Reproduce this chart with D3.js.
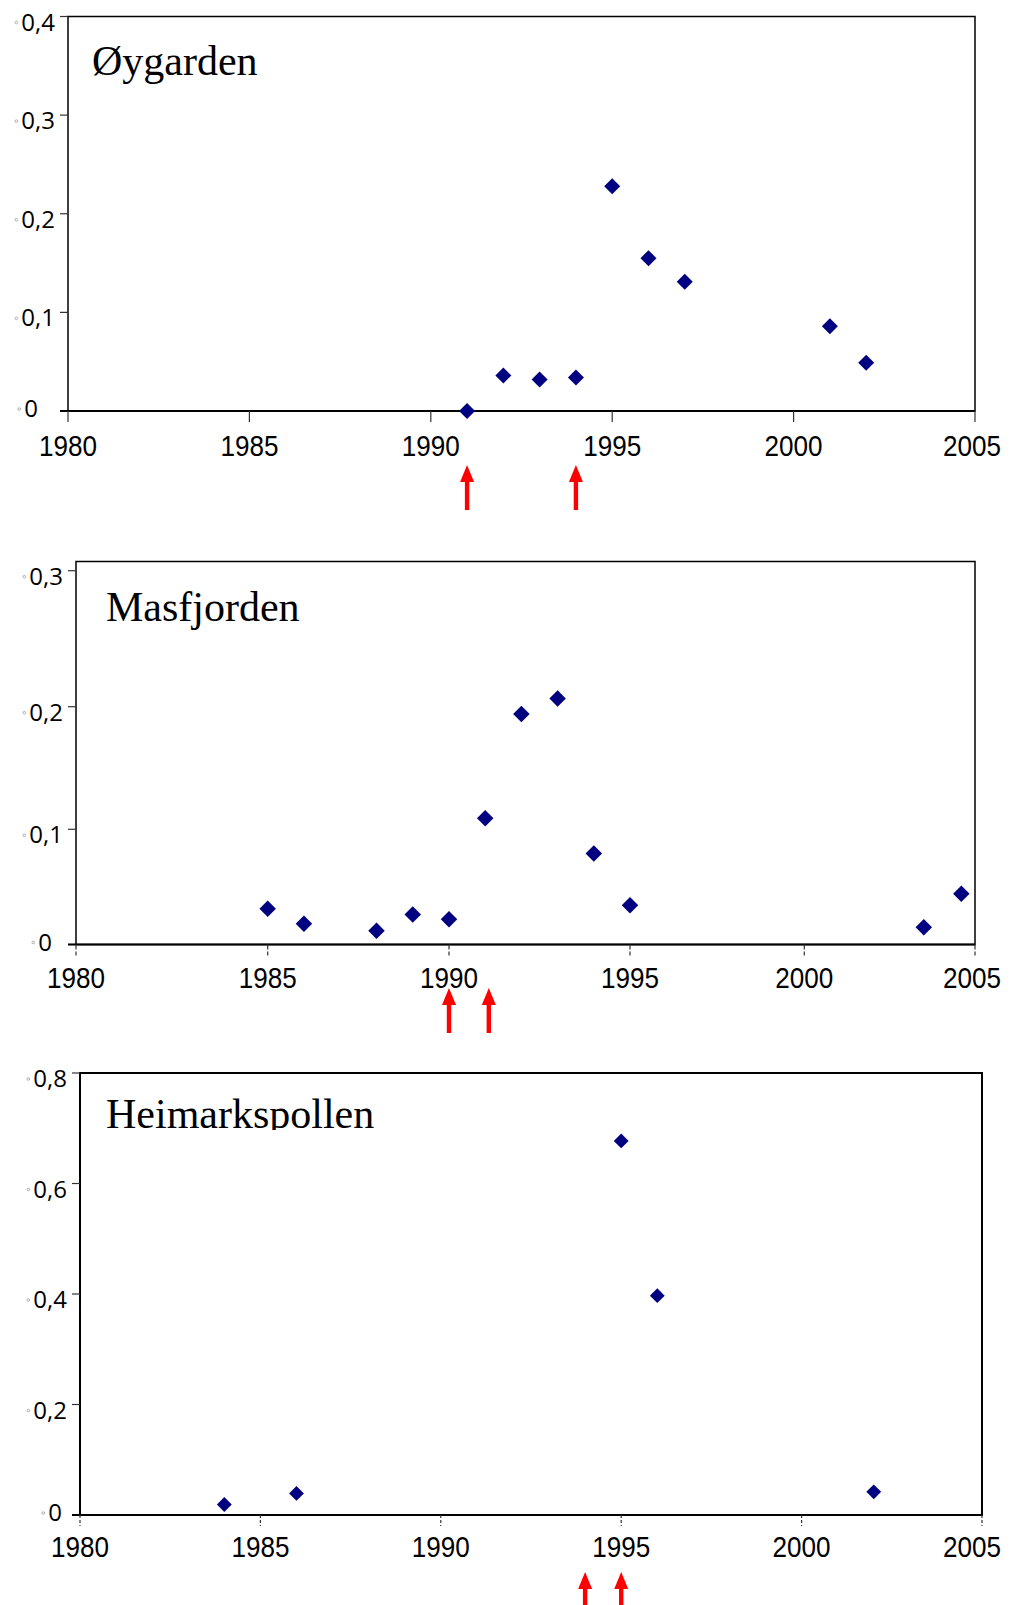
<!DOCTYPE html>
<html>
<head>
<meta charset="utf-8">
<script src="https://cdn.jsdelivr.net/npm/d3@7"></script>
<style>
  body { margin: 0; background: #fff; }
  svg { display: block; }
  .title { font-family: "Liberation Serif", "Times New Roman", serif; font-size: 42px; fill: #000; }
  .xlab { font-family: "Liberation Sans Narrow", "Arial Narrow", "Liberation Sans", sans-serif; font-size: 30px; fill: #000; }
  .ylab { font-family: "Open Sans", sans-serif; font-size: 24px; fill: #000; }
</style>
</head>
<body>
<div id="root"></div>
<script>
const width = 1011;
const height = 1605;

// --- data ---
const xTicks = [1980, 1985, 1990, 1995, 2000, 2005];

const oyYears  = [1991, 1992, 1993, 1994, 1995, 1996, 1997, 2001, 2002];
const oyValues = [0, 0.036, 0.032, 0.034, 0.228, 0.155, 0.131, 0.086, 0.049];
const oyArrows = [1991, 1994];
const oyYTicks = [0, 0.1, 0.2, 0.3, 0.4];

const masYears  = [1985, 1986, 1988, 1989, 1990, 1991, 1992, 1993, 1994, 1995, 2003.5, 2004.6];
const masValues = [0.031, 0.018, 0.012, 0.026, 0.022, 0.109, 0.194, 0.206, 0.079, 0.034, 0.015, 0.044];
const masArrows = [1990, 1991.1];
const masYTicks = [0, 0.1, 0.2, 0.3];

const heiYears  = [1984, 1986, 1995, 1996, 2002];
const heiValues = [0.019, 0.039, 0.677, 0.397, 0.042];
const heiArrows = [1994, 1995];
const heiYTicks = [0, 0.2, 0.4, 0.6, 0.8];

const fmt = d3.formatLocale({ decimal: ",", thousands: " ", grouping: [3], currency: ["", ""] }).format(".1~f");

// --- layout of the three panels ---
const panels = [
	{
		title: "Øygarden", years: oyYears, values: oyValues, arrows: oyArrows, yTicks: oyYTicks,
		x: d3.scaleLinear().domain([1980, 2005]).range([68, 975]),
		y: d3.scaleLinear().domain([0, 0.4]).range([411, 16.5]),
		top: 16.5, titleX: 92, titleY: 75, labelY: 456, arrowTop: 465,
		marker: 128, tickDash: null, clipTitle: null, zeroGap: 30
	},
	{
		title: "Masfjorden", years: masYears, values: masValues, arrows: masArrows, yTicks: masYTicks,
		// the printed axis is unevenly spaced, so map each tick to where it sits
		x: d3.scaleLinear().domain(xTicks).range([76, 267.7, 449, 630, 804.3, 975]),
		y: d3.scaleLinear().domain(masYTicks).range([944.5, 829.3, 706.7, 570.7]),
		top: 561.5, titleX: 106, titleY: 621, labelY: 988, arrowTop: 988,
		marker: 136, tickDash: "5,2", clipTitle: null, zeroGap: 24
	},
	{
		title: "Heimarkspollen", years: heiYears, values: heiValues, arrows: heiArrows, yTicks: heiYTicks,
		x: d3.scaleLinear().domain([1980, 2005]).range([80, 982]),
		y: d3.scaleLinear().domain([0, 0.8]).range([1515, 1073]),
		top: 1073, titleX: 106, titleY: 1128, labelY: 1557, arrowTop: 1572,
		marker: 110, tickDash: "3,2", clipTitle: 1130, zeroGap: 18
	}
];

const svg = d3.select("#root")
	.append("svg")
		.attr("width", width)
		.attr("height", height);

panels.forEach((p, i) => drawPanel(svg.append("g"), p, i));

function drawPanel(g, p, i) {
	const [x0, x1] = [p.x(1980), p.x(2005)];
	const y0 = p.y(0);

	// frame
	g.append("rect")
		.attr("x", x0).attr("y", p.top)
		.attr("width", x1 - x0).attr("height", y0 - p.top)
		.attr("fill", "none")
		.attr("stroke", "#000")
		.attr("stroke-width", i === 2 ? 2 : 1.5);

	// title
	const title = g.append("text")
		.attr("class", "title")
		.attr("x", p.titleX).attr("y", p.titleY)
		.text(p.title);
	if (p.clipTitle) {
		svg.append("clipPath").attr("id", "clipTitle" + i)
			.append("rect").attr("x", 0).attr("y", 0).attr("width", width).attr("height", p.clipTitle);
		title.attr("clip-path", `url(#clipTitle${i})`);
	}

	// y ticks
	const labelRight = d => d === 0 ? x0 - p.zeroGap : x0 - 13;
	const labelBase = d => d === 0 ? p.y(d) + 6 : p.y(d) + 14;
	const yt = g.selectAll(".ytick").data(p.yTicks).enter()
		.append("g").attr("class", "ytick");
	yt.append("line")
		.attr("x1", x0 - 8).attr("x2", x0)
		.attr("y1", d => p.y(d)).attr("y2", d => p.y(d))
		.attr("stroke", "#333").attr("stroke-width", 1.2);
	yt.append("text")
		.attr("class", "ylab")
		.attr("x", labelRight)
		.attr("y", labelBase)
		.attr("text-anchor", "end")
		.text(d => fmt(d));
	yt.each(function(d) {
		const t = d3.select(this).select("text").node();
		const w = t.getComputedTextLength();
		d3.select(this).append("circle")
			.attr("cx", labelRight(d) - w - 5)
			.attr("cy", labelBase(d) - 8)
			.attr("r", 1.3)
			.attr("fill", "none")
			.attr("stroke", "#999")
			.attr("stroke-width", 0.8);
	});

	// x axis line and ticks
	g.append("line")
		.attr("x1", x0 - 8).attr("x2", x1)
		.attr("y1", y0).attr("y2", y0)
		.attr("stroke", "#000").attr("stroke-width", 2);
	g.selectAll(".xtick").data(xTicks).enter()
		.append("line")
			.attr("x1", d => p.x(d)).attr("x2", d => p.x(d))
			.attr("y1", y0).attr("y2", y0 + 11)
			.attr("stroke", "#333")
			.attr("stroke-width", 1.2)
			.attr("stroke-dasharray", p.tickDash);
	g.selectAll(".xlab").data(xTicks).enter()
		.append("text")
			.attr("class", "xlab")
			.attr("x", d => Math.min(p.x(d), width - 39))
			.attr("y", p.labelY)
			.attr("text-anchor", "middle")
			.attr("textLength", 58)
			.attr("lengthAdjust", "spacingAndGlyphs")
			.text(d => d);

	// points
	const pts = p.years.map((yr, k) => ({ year: yr, value: p.values[k] }));
	g.selectAll(".pt").data(pts).enter()
		.append("path")
			.attr("d", d3.symbol().type(d3.symbolSquare).size(p.marker))
			.attr("transform", d => `translate(${p.x(d.year)},${p.y(d.value)}) rotate(45)`)
			.attr("fill", "#000080");

	// red arrows under the axis
	g.selectAll(".arrow").data(p.arrows).enter()
		.append("path")
			.attr("d", d => {
				const cx = p.x(d), t = p.arrowTop;
				return `M ${cx} ${t} L ${cx + 7} ${t + 17} L ${cx + 2.2} ${t + 17} L ${cx + 2.2} ${t + 45}
						L ${cx - 2.2} ${t + 45} L ${cx - 2.2} ${t + 17} L ${cx - 7} ${t + 17} Z`;
			})
			.attr("fill", "#ff0000");
}
</script>
</body>
</html>
